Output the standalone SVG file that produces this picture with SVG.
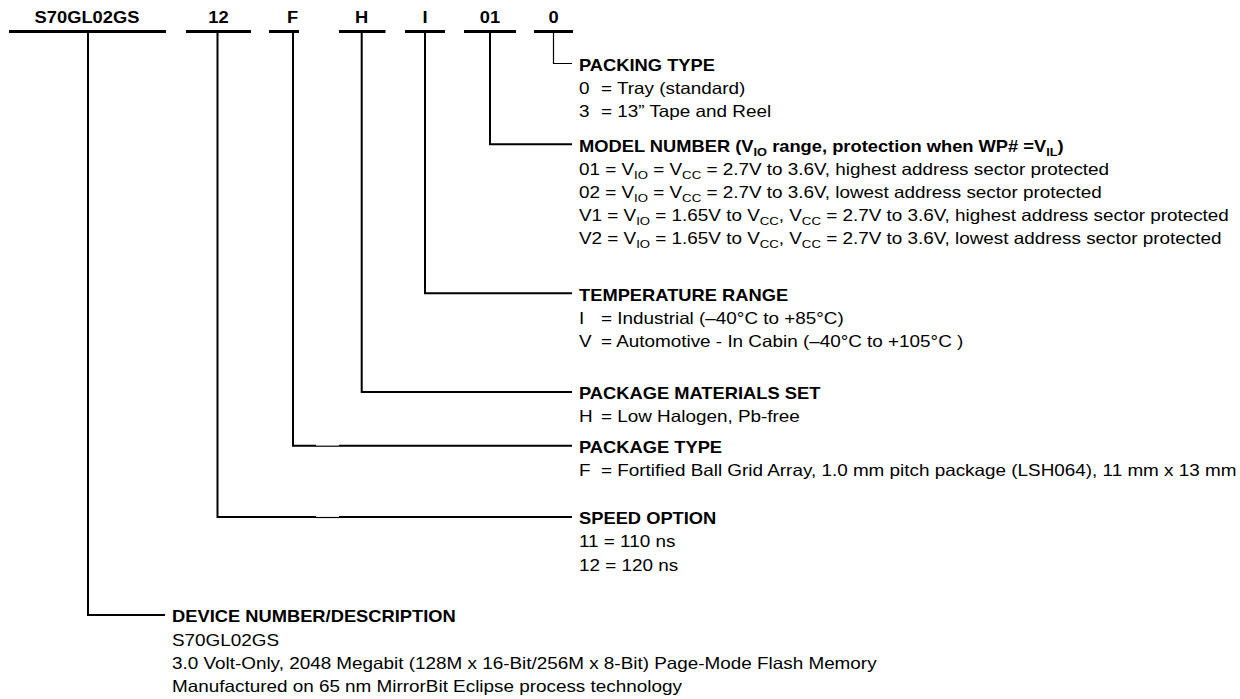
<svg xmlns="http://www.w3.org/2000/svg" width="1240" height="699" viewBox="0 0 1240 699">
<style>
text{font-family:"Liberation Sans",Arial,Helvetica,sans-serif;fill:#000}
.b{font-weight:bold;font-size:16.5px}
.r{font-size:16.5px}
.s{font-size:11.5px}
.bar{fill:#000}
.c{fill:none;stroke:#000;stroke-width:2;stroke-linejoin:miter;stroke-linecap:butt}
.c1{fill:none;stroke:#000;stroke-width:1.2}
</style>
<rect width="1240" height="699" fill="#fff"/>
<g id="connectors">
<path class="c1" d="M553.5,33 V63.5 H572"/>
<path class="c" d="M490,33 V144.3 H572"/>
<path class="c" d="M425,33 V293.3 H572"/>
<path class="c" d="M361.7,33 V392 H572"/>
<path class="c" d="M293,33 V445.7 H316 M339,445.7 H572"/>
<path class="c1" d="M316,446.2 H339"/>
<path class="c" d="M217.5,33 V517 H316 M339,517 H572"/>
<path class="c1" d="M316,517.5 H339"/>
<path class="c" d="M88,33 V615 H165"/>
</g>
<g id="code-device"><rect class="bar" x="9" y="30" width="157" height="3"/><text class="b" text-anchor="middle" transform="translate(87,23.3) scale(1.11,1)">S70GL02GS</text></g>
<g id="code-speed"><rect class="bar" x="186" y="30" width="65" height="3"/><text class="b" text-anchor="middle" transform="translate(218.5,23.3) scale(1.11,1)">12</text></g>
<g id="code-package"><rect class="bar" x="269" y="30" width="30" height="3"/><text class="b" text-anchor="middle" transform="translate(292.5,23.3) scale(1.11,1)">F</text></g>
<g id="code-materials"><rect class="bar" x="339" y="30" width="46.5" height="3"/><text class="b" text-anchor="middle" transform="translate(361.7,23.3) scale(1.11,1)">H</text></g>
<g id="code-temperature"><rect class="bar" x="405" y="30" width="40" height="3"/><text class="b" text-anchor="middle" transform="translate(425,23.3) scale(1.11,1)">I</text></g>
<g id="code-model"><rect class="bar" x="464" y="30" width="52" height="3"/><text class="b" text-anchor="middle" transform="translate(490,23.3) scale(1.11,1)">01</text></g>
<g id="code-packing"><rect class="bar" x="534" y="30" width="39" height="3"/><text class="b" text-anchor="middle" transform="translate(553.5,23.3) scale(1.11,1)">0</text></g>

<g id="packing-type">
<text class="b" transform="translate(579,70.5) scale(1.11,1)">PACKING TYPE</text>
<text class="r" transform="translate(579,93.7) scale(1.145,1)"><tspan x="0">0</tspan><tspan x="19.2">= Tray (standard)</tspan></text>
<text class="r" transform="translate(579,116.9) scale(1.145,1)"><tspan x="0">3</tspan><tspan x="19.2">= 13” Tape and Reel</tspan></text>
</g>
<g id="model-number">
<text class="b" transform="translate(579,151.5) scale(1.11,1)">MODEL NUMBER (V<tspan class="s" dy="4">IO</tspan><tspan dy="-4"> range, protection when WP# =V</tspan><tspan class="s" dy="4">IL</tspan><tspan dy="-4">)</tspan></text>
<text class="r" transform="translate(579,174.7) scale(1.145,1)">01 = V<tspan class="s" dy="4">IO</tspan><tspan dy="-4"> = V</tspan><tspan class="s" dy="4">CC</tspan><tspan dy="-4"> = 2.7V to 3.6V, highest address sector protected</tspan></text>
<text class="r" transform="translate(579,197.9) scale(1.145,1)">02 = V<tspan class="s" dy="4">IO</tspan><tspan dy="-4"> = V</tspan><tspan class="s" dy="4">CC</tspan><tspan dy="-4"> = 2.7V to 3.6V, lowest address sector protected</tspan></text>
<text class="r" transform="translate(579,221.1) scale(1.145,1)">V1 = V<tspan class="s" dy="4">IO</tspan><tspan dy="-4"> = 1.65V to V</tspan><tspan class="s" dy="4">CC</tspan><tspan dy="-4">, V</tspan><tspan class="s" dy="4">CC</tspan><tspan dy="-4"> = 2.7V to 3.6V, highest address sector protected</tspan></text>
<text class="r" transform="translate(579,244.3) scale(1.145,1)">V2 = V<tspan class="s" dy="4">IO</tspan><tspan dy="-4"> = 1.65V to V</tspan><tspan class="s" dy="4">CC</tspan><tspan dy="-4">, V</tspan><tspan class="s" dy="4">CC</tspan><tspan dy="-4"> = 2.7V to 3.6V, lowest address sector protected</tspan></text>
</g>
<g id="temperature-range">
<text class="b" transform="translate(579,300.5) scale(1.11,1)">TEMPERATURE RANGE</text>
<text class="r" transform="translate(579,323.7) scale(1.145,1)"><tspan x="0">I</tspan><tspan x="19.2">= Industrial (–40°C to +85°C)</tspan></text>
<text class="r" transform="translate(579,346.9) scale(1.145,1)"><tspan x="0">V</tspan><tspan x="19.2">= Automotive - In Cabin (–40°C to +105°C )</tspan></text>
</g>
<g id="package-materials">
<text class="b" transform="translate(579,399.2) scale(1.11,1)">PACKAGE MATERIALS SET</text>
<text class="r" transform="translate(579,422.4) scale(1.145,1)"><tspan x="0">H</tspan><tspan x="19.2">= Low Halogen, Pb-free</tspan></text>
</g>
<g id="package-type">
<text class="b" transform="translate(579,453) scale(1.11,1)">PACKAGE TYPE</text>
<text class="r" transform="translate(579,476.2) scale(1.145,1)"><tspan x="0">F</tspan><tspan x="19.2">= Fortified Ball Grid Array, 1.0 mm pitch package (LSH064), 11 mm x 13 mm</tspan></text>
</g>
<g id="speed-option">
<text class="b" transform="translate(579,524.2) scale(1.11,1)">SPEED OPTION</text>
<text class="r" transform="translate(579,547.4) scale(1.145,1)">11 = 110 ns</text>
<text class="r" transform="translate(579,570.6) scale(1.145,1)">12 = 120 ns</text>
</g>
<g id="device-number">
<text class="b" transform="translate(172,622.3) scale(1.11,1)">DEVICE NUMBER/DESCRIPTION</text>
<text class="r" transform="translate(172,645.5) scale(1.145,1)">S70GL02GS</text>
<text class="r" transform="translate(172,668.7) scale(1.145,1)">3.0 Volt-Only, 2048 Megabit (128M x 16-Bit/256M x 8-Bit) Page-Mode Flash Memory</text>
<text class="r" transform="translate(172,691.9) scale(1.145,1)">Manufactured on 65 nm MirrorBit Eclipse process technology</text>
</g>
</svg>
